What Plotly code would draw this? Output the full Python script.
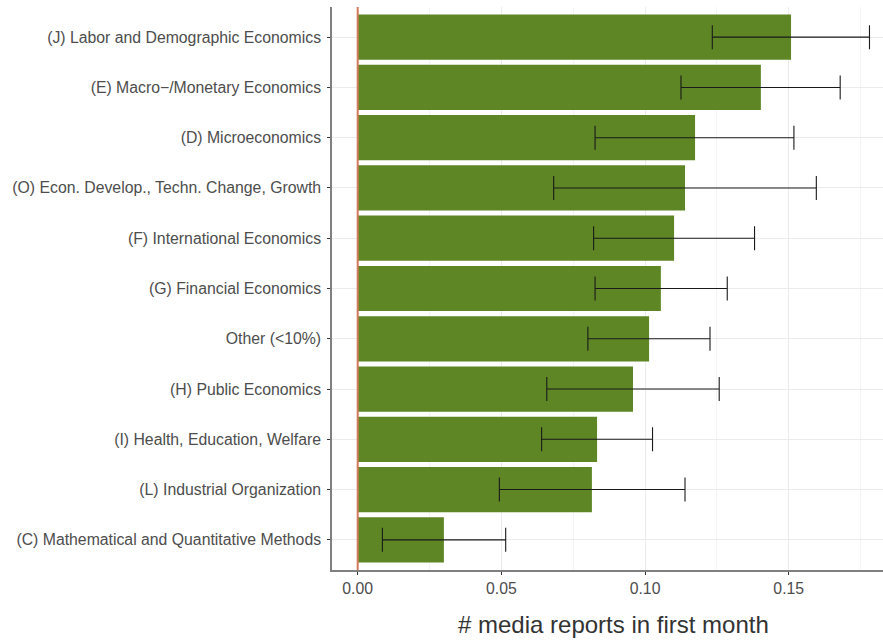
import plotly.graph_objects as go

# Fields, ordered bottom to top
fields = [
    "(C) Mathematical and Quantitative Methods",
    "(L) Industrial Organization",
    "(I) Health, Education, Welfare",
    "(H) Public Economics",
    "Other (<10%)",
    "(G) Financial Economics",
    "(F) International Economics",
    "(O) Econ. Develop., Techn. Change, Growth",
    "(D) Microeconomics",
    "(E) Macro\u2212/Monetary Economics",
    "(J) Labor and Demographic Economics",
]
mean_reports = [0.0300, 0.0815, 0.0833, 0.0958, 0.1014, 0.1055, 0.1101, 0.1139, 0.1174, 0.1403, 0.1508]
ci_low = [0.0086, 0.0493, 0.0640, 0.0658, 0.0801, 0.0826, 0.0821, 0.0682, 0.0826, 0.1125, 0.1234]
ci_high = [0.0515, 0.1139, 0.1026, 0.1258, 0.1226, 0.1286, 0.1381, 0.1596, 0.1518, 0.1679, 0.1781]

err_plus = [h - m for h, m in zip(ci_high, mean_reports)]
err_minus = [m - l for m, l in zip(mean_reports, ci_low)]

fig = go.Figure()
fig.add_trace(go.Bar(
    x=mean_reports,
    y=fields,
    orientation="h",
    width=0.9,
    marker=dict(color="#5e8624", line=dict(width=0)),
    error_x=dict(
        type="data",
        symmetric=False,
        array=err_plus,
        arrayminus=err_minus,
        color="#1a1a1a",
        thickness=1.1,
        width=12,
    ),
    showlegend=False,
))

# reference line at zero
fig.add_shape(
    type="line", xref="x", yref="paper",
    x0=0, x1=0, y0=0, y1=1,
    line=dict(color="#d27a5c", width=2),
    layer="above",
)

# x-axis title
fig.add_annotation(
    text="# media reports in first month",
    xref="paper", yref="paper", x=0.511, y=-0.097,
    xanchor="center", yanchor="middle", showarrow=False,
    font=dict(size=24, color="#333333"),
)

fig.update_layout(
    width=883, height=642,
    margin=dict(l=332, r=0, t=7, b=72),
    paper_bgcolor="white",
    plot_bgcolor="white",
    font=dict(family="Liberation Sans, Arial, sans-serif", color="#4d4d4d", size=15.8),
    bargap=0.1,
)

fig.update_xaxes(
    range=[-0.00894, 0.1828],
    tickvals=[0, 0.05, 0.10, 0.15],
    ticktext=["0.00", "0.05", "0.10", "0.15"],
    tickfont=dict(size=15.8, color="#4d4d4d"),
    ticks="outside", ticklen=3, tickwidth=1.2, tickcolor="#333333",
    showline=True, linecolor="#808080", linewidth=1.5,
    showgrid=True, gridcolor="#ebebeb", gridwidth=1,
    minor=dict(tickvals=[0.025, 0.075, 0.125, 0.175], showgrid=True,
               gridcolor="#f4f4f4", gridwidth=1, ticks=""),
    zeroline=False,
)

fig.update_yaxes(
    type="category",
    range=[-0.6, 10.6],
    tickfont=dict(size=15.8, color="#4d4d4d"),
    ticks="outside", ticklen=3, tickwidth=1.2, tickcolor="#333333",
    showline=True, linecolor="#808080", linewidth=1.5,
    showgrid=True, gridcolor="#ebebeb", gridwidth=1,
    zeroline=False,
    ticklabelstandoff=3,
)

fig.write_html("out.html")
